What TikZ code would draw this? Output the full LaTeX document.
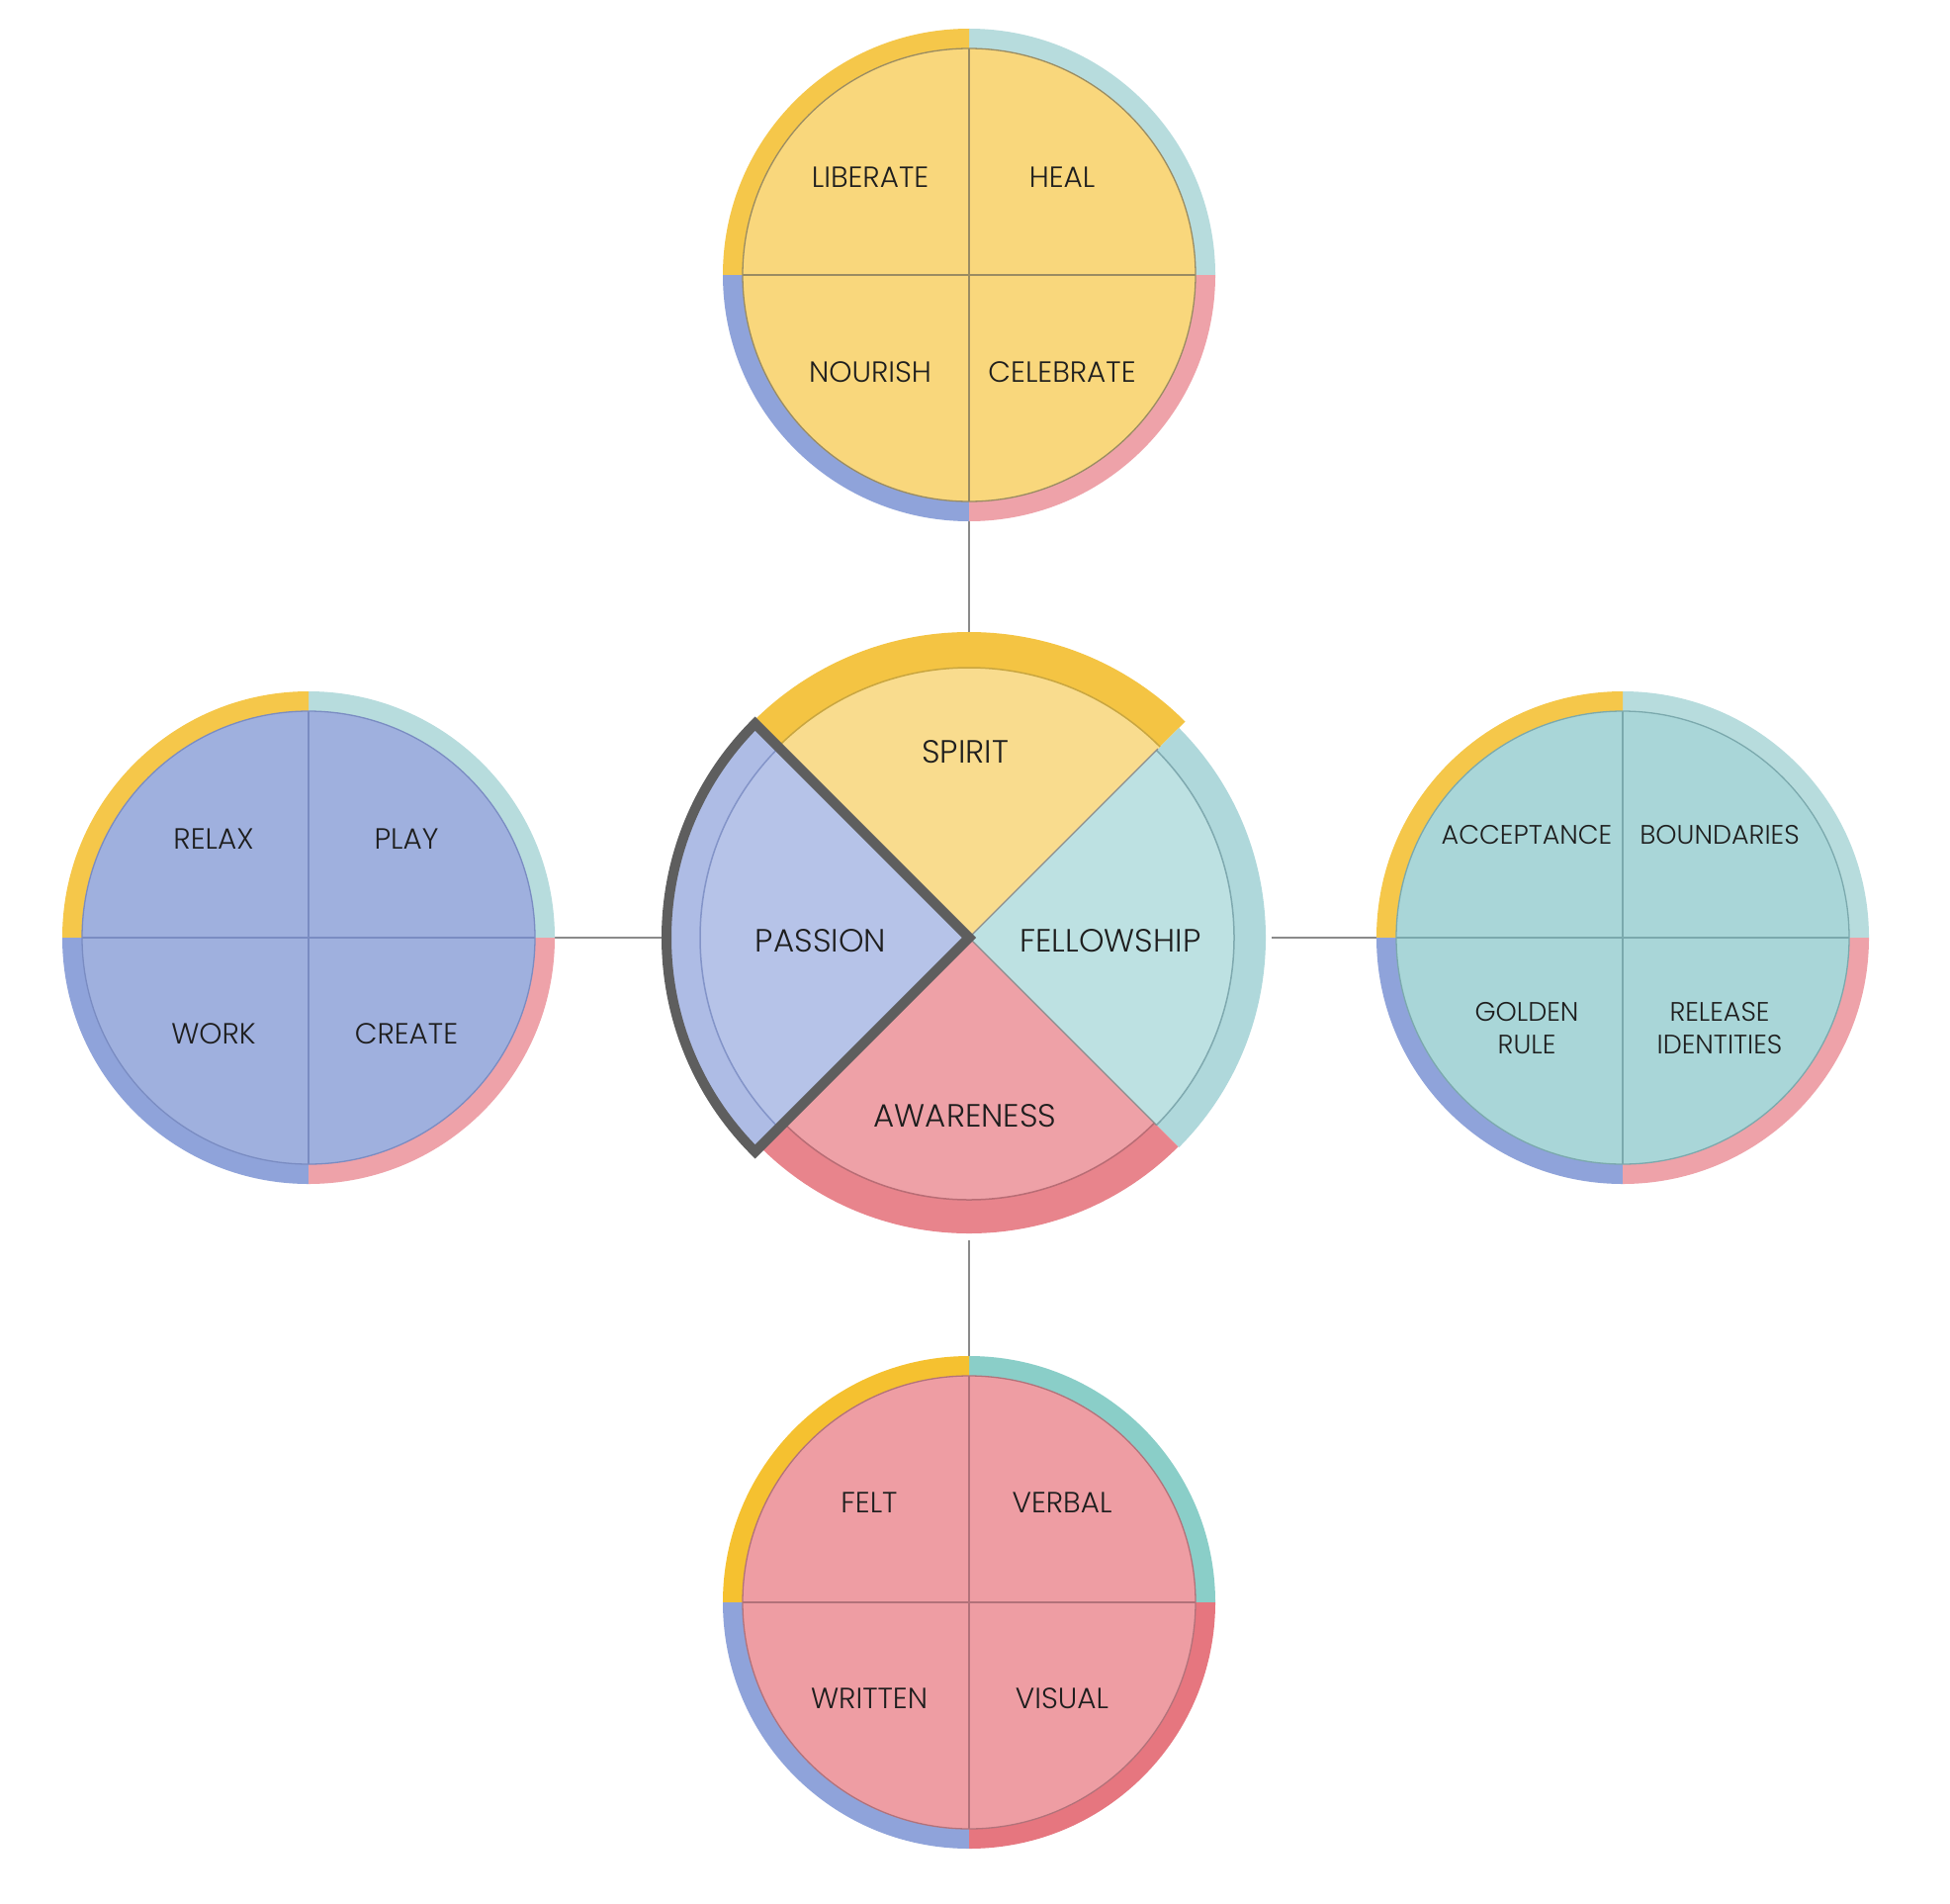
\documentclass[tikz,border=0pt]{standalone}
\usepackage{fontspec}
\setmainfont{Poppins Light}
\definecolor{txt}{HTML}{1E1E1E}
\definecolor{connc}{HTML}{8A8A8A}
\definecolor{boldc}{HTML}{5E5E5E}
% satellite colours
\definecolor{bandY}{HTML}{F5C74A}
\definecolor{bandT}{HTML}{B7DCDD}
\definecolor{bandP}{HTML}{EEA2A9}
\definecolor{bandB}{HTML}{8FA3DA}
\definecolor{bandYb}{HTML}{F5C130}
\definecolor{bandTb}{HTML}{8ACEC8}
\definecolor{bandPb}{HTML}{E6767F}
\definecolor{topF}{HTML}{F9D77C}
\definecolor{topL}{HTML}{9A8C62}
\definecolor{leftF}{HTML}{9FB0DE}
\definecolor{leftL}{HTML}{7A8CC2}
\definecolor{rightF}{HTML}{A9D6D8}
\definecolor{rightL}{HTML}{7BA9AD}
\definecolor{botF}{HTML}{EE9DA3}
\definecolor{botL}{HTML}{B2727A}
% centre colours
\definecolor{cYb}{HTML}{F4C443}
\definecolor{cYf}{HTML}{F9DC8E}
\definecolor{cYl}{HTML}{C9A640}
\definecolor{cTb}{HTML}{AFD8DB}
\definecolor{cTf}{HTML}{BDE1E2}
\definecolor{cTl}{HTML}{7FA9AF}
\definecolor{cPb}{HTML}{E8848C}
\definecolor{cPf}{HTML}{EEA1A7}
\definecolor{cPl}{HTML}{B86D75}
\definecolor{cBb}{HTML}{AEBCE5}
\definecolor{cBf}{HTML}{B6C3E8}
\definecolor{cBl}{HTML}{8394C8}
% #1 name, #2 position, #3 fill, #4 line, #5 TL band, #6 TR band, #7 BR band, #8 BL band
\newcommand\satdisc[8]{%
  \node[ring] (#1) at #2 {};
  \begin{scope}[shift={#2}]
    \fill[#6] (0:249pt) arc[start angle=0,end angle=90,radius=249pt] -- (90:225pt) arc[start angle=90,end angle=0,radius=225pt] -- cycle;
    \fill[#5] (90:249pt) arc[start angle=90,end angle=180,radius=249pt] -- (180:225pt) arc[start angle=180,end angle=90,radius=225pt] -- cycle;
    \fill[#8] (180:249pt) arc[start angle=180,end angle=270,radius=249pt] -- (270:225pt) arc[start angle=270,end angle=180,radius=225pt] -- cycle;
    \fill[#7] (270:249pt) arc[start angle=270,end angle=360,radius=249pt] -- (0:225pt) arc[start angle=360,end angle=270,radius=225pt] -- cycle;
    \fill[#3] (0,0) circle[radius=229pt];
    \draw[#4, line width=1.3pt] (0,0) circle[radius=229pt];
    \draw[#4, line width=1.3pt] (-229pt,0) -- (229pt,0) (0,229pt) -- (0,-229pt);
  \end{scope}}
\begin{document}
\begin{tikzpicture}[x=1pt,y=1pt,
  lab/.style={font=\fontsize{29.5}{33}\selectfont, text=txt, align=center, inner sep=0pt},
  labn/.style={font=\fontsize{27}{33}\selectfont, text=txt, align=center, inner sep=0pt},
  biglab/.style={font=\fontsize{32.5}{38}\selectfont, text=txt, inner sep=0pt},
  conn/.style={draw=connc, line width=2.6pt},
  ring/.style={circle, minimum size=498pt, inner sep=0pt},
  hub/.style={circle, minimum size=612pt, inner sep=0pt},
  boldline/.style={draw=boldc, line width=10pt, line join=miter, miter limit=10},
]
\useasboundingbox (0,0) rectangle (1972,-1924);
\fill[white] (0,0) rectangle (1972,-1924);

% invisible anchor nodes
\node[hub] (cen) at (980,-948) {};
\node[ring] (topn) at (980,-278) {};
\node[ring] (leftn) at (312,-948) {};
\node[ring] (rightn) at (1641,-948) {};
\node[ring] (botn) at (980,-1620) {};

% connectors
\draw[conn] (topn) -- (cen);
\draw[conn] (cen) -- (botn);
\draw[conn] (leftn) -- (cen);
\draw[conn] (cen) -- (rightn);

% satellites
\satdisc{topd}{(980,-278)}{topF}{topL}{bandY}{bandT}{bandP}{bandB}
\satdisc{leftd}{(312,-948)}{leftF}{leftL}{bandY}{bandT}{bandP}{bandB}
\satdisc{rightd}{(1641,-948)}{rightF}{rightL}{bandY}{bandT}{bandP}{bandB}
\satdisc{botd}{(980,-1620)}{botF}{botL}{bandYb}{bandTb}{bandPb}{bandB}

% centre wheel
\begin{scope}[shift={(980,-948)}]
  \fill[cYb] (0,0) -- (45:309pt) arc[start angle=45,end angle=135,radius=309pt] -- cycle;
  \fill[cTb] (0,0) -- (-45:300pt) arc[start angle=-45,end angle=45,radius=300pt] -- cycle;
  \fill[cPb] (0,0) -- (225:299pt) arc[start angle=225,end angle=315,radius=299pt] -- cycle;
  \fill[cBb] (0,0) -- (135:308pt) arc[start angle=135,end angle=225,radius=308pt] -- cycle;
  \fill[cYf] (0,0) -- (45:273pt) arc[start angle=45,end angle=135,radius=273pt] -- cycle;
  \fill[cTf] (0,0) -- (-45:268pt) arc[start angle=-45,end angle=45,radius=268pt] -- cycle;
  \fill[cPf] (0,0) -- (225:265pt) arc[start angle=225,end angle=315,radius=265pt] -- cycle;
  \fill[cBf] (0,0) -- (135:272pt) arc[start angle=135,end angle=225,radius=272pt] -- cycle;
  \draw[cYl, line width=1.5pt] (45:273pt) arc[start angle=45,end angle=135,radius=273pt];
  \draw[cTl, line width=1.5pt] (-45:268pt) arc[start angle=-45,end angle=45,radius=268pt];
  \draw[cPl, line width=1.5pt] (225:265pt) arc[start angle=225,end angle=315,radius=265pt];
  \draw[cBl, line width=1.5pt] (135:272pt) arc[start angle=135,end angle=225,radius=272pt];
  \draw[black!45, line width=1.2pt] (45:270pt) -- (0,0) -- (-45:268pt);
  \draw[boldline] (0,0) -- (135:306pt) arc[start angle=135,end angle=225,radius=306pt] -- cycle;
\end{scope}

% labels: top
\node[lab] (liberate) at (880,-179) {LIBERATE};
\node[lab] (heal) at (1074,-179) {HEAL};
\node[lab] (nourish) at (880,-376) {NOURISH};
\node[lab] (celebrate) at (1074,-376) {CELEBRATE};
% left
\node[lab] (relax) at (216,-848) {RELAX};
\node[lab] (play) at (411,-848) {PLAY};
\node[lab] (work) at (216,-1045) {WORK};
\node[lab] (create) at (411,-1045) {CREATE};
% right
\node[labn] (acceptance) at (1544,-844) {ACCEPTANCE};
\node[labn] (boundaries) at (1739,-844) {BOUNDARIES};
\node[labn] (golden) at (1544,-1040) {GOLDEN\\RULE};
\node[labn] (release) at (1739,-1040) {RELEASE\\IDENTITIES};
% bottom
\node[lab] (felt) at (879,-1519) {FELT};
\node[lab] (verbal) at (1074,-1519) {VERBAL};
\node[lab] (written) at (879,-1717) {WRITTEN};
\node[lab] (visual) at (1074,-1717) {VISUAL};
% centre
\node[biglab] (spirit) at (976,-760) {SPIRIT};
\node[biglab] (passion) at (830,-951) {PASSION};
\node[biglab] (fellowship) at (1123,-951) {FELLOWSHIP};
\node[biglab] (awareness) at (976,-1128) {AWARENESS};
\end{tikzpicture}
\end{document}
